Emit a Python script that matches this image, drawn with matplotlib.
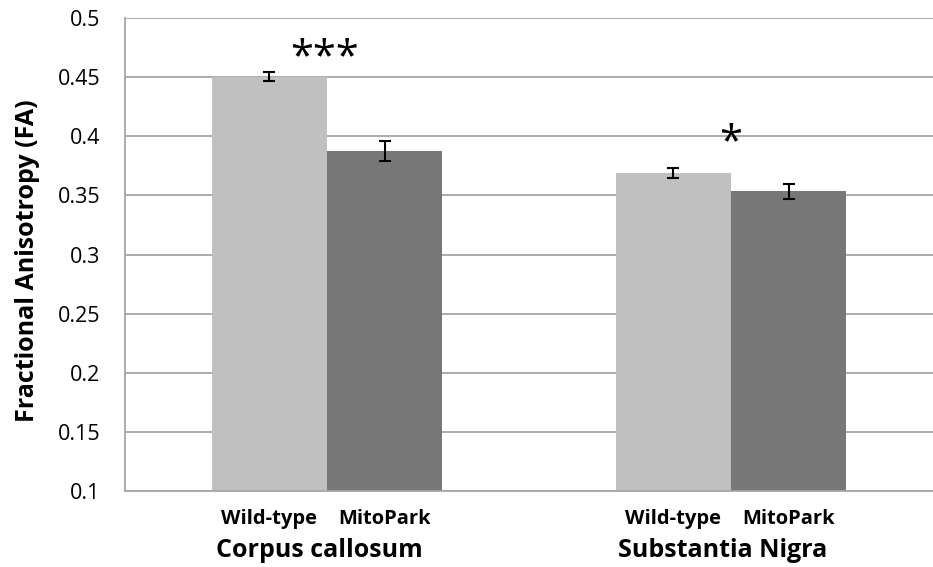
import numpy as np
import matplotlib
matplotlib.use("Agg")
import matplotlib.pyplot as plt

plt.rcParams['font.family'] = ['Open Sans', 'DejaVu Sans']

regions = ["Corpus callosum", "Substantia Nigra"]
groups = ["Wild-type", "MitoPark"]
fa_wt = [0.4505, 0.369]
fa_mp = [0.3877, 0.3536]
err_wt = [0.0040, 0.0044]
err_mp = [0.0087, 0.0062]
stars = ["***", "*"]

fig = plt.figure(figsize=(9.33, 5.67), dpi=100)
ax = fig.add_axes([0.134, 0.134, 0.866, 0.834])

x = np.arange(len(regions))
w = 0.285
ax.bar(x - w/2, fa_wt, w, bottom=0, color="#c0c0c0", zorder=2)
ax.bar(x + w/2, fa_mp, w, bottom=0, color="#777777", zorder=2)
ax.errorbar(x - w/2, fa_wt, yerr=err_wt, fmt="none", ecolor="black",
            elinewidth=1.5, capsize=4, capthick=1.5, zorder=3)
ax.errorbar(x + w/2, fa_mp, yerr=err_mp, fmt="none", ecolor="black",
            elinewidth=1.5, capsize=4, capthick=1.5, zorder=3)

ax.set_ylim(0.1, 0.5)
ax.set_xlim(-0.5, 1.5)
ax.set_yticks(np.arange(0.1, 0.501, 0.05))
ax.set_yticklabels(["0.1", "0.15", "0.2", "0.25", "0.3", "0.35", "0.4", "0.45", "0.5"])
ax.tick_params(axis="y", length=0, labelsize=15.5, pad=18)
ax.set_xticks([])
ax.yaxis.grid(True, color="#a6a6a6", linewidth=1.3, zorder=0)
for s in ["top", "right"]:
    ax.spines[s].set_visible(False)
for s in ["left", "bottom"]:
    ax.spines[s].set_color("#a6a6a6")
    ax.spines[s].set_linewidth(1.3)

fig.text(28/933, 1 - 261/567, "Fractional Anisotropy (FA)", rotation=90,
         ha="center", va="center", fontsize=18, fontweight="bold")

# group and bar labels
for i, r in enumerate(regions):
    ax.text(x[i] - w/2, -0.06, groups[0], transform=ax.get_xaxis_transform(),
            ha="center", va="center", fontsize=14.5, fontweight="bold")
    ax.text(x[i] + w/2, -0.06, groups[1], transform=ax.get_xaxis_transform(),
            ha="center", va="center", fontsize=14.5, fontweight="bold")
    ax.text(x[i] - 0.02, -0.125, r, transform=ax.get_xaxis_transform(),
            ha="center", va="center", fontsize=18, fontweight="bold")

ax.text(x[0] - 0.007, 0.466, stars[0], ha="center", va="center", fontsize=30)
ax.text(x[1] + 0.0, 0.394, stars[1], ha="center", va="center", fontsize=30)

fig.savefig("out.png", dpi=100)
